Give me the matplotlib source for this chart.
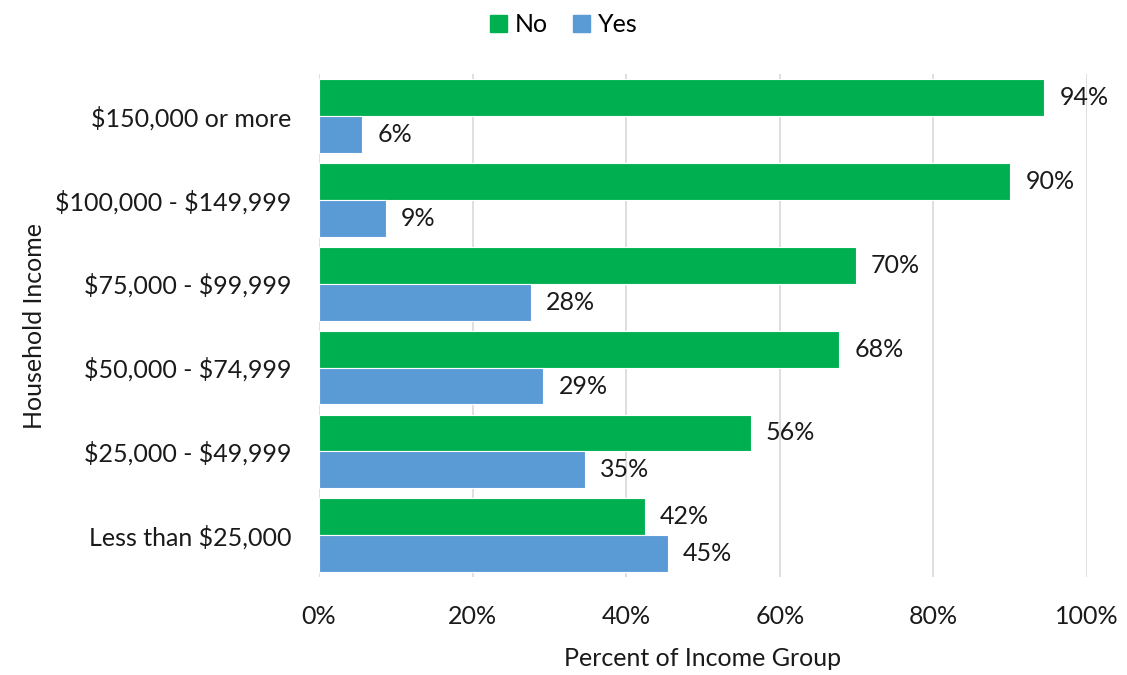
import matplotlib.pyplot as plt
import numpy as np
from matplotlib.patches import Patch

# ============================================================
# DATA
# ============================================================

categories = [
    "Less than $25,000",
    "$25,000 - $49,999",
    "$50,000 - $74,999",
    "$75,000 - $99,999",
    "$100,000 - $149,999",
    "$150,000 or more",
]
no_values = [42.4, 56.2, 67.7, 69.9, 90.0, 94.4]
yes_values = [45.4, 34.6, 29.2, 27.6, 8.7, 5.6]
x_ticks = [0, 20, 40, 60, 80, 100]

GREEN = "#00B050"
BLUE = "#5B9BD5"
TEXT = "#1a1a1a"
FS = 18

plt.rcParams["font.family"] = ["Lato", "DejaVu Sans"]
plt.rcParams["text.parse_math"] = False

fig = plt.figure(figsize=(11.27, 6.75), dpi=100)
ax = fig.add_axes([0.283, 0.145, 0.6815, 0.745])

y = np.arange(len(categories))
h = 0.44

bars_no = ax.barh(y + h / 2, no_values, height=h, color=GREEN,
                  edgecolor="white", linewidth=0.8, zorder=3)
bars_yes = ax.barh(y - h / 2, yes_values, height=h, color=BLUE,
                   edgecolor="white", linewidth=0.8, zorder=3)

for bars, vals in [(bars_no, no_values), (bars_yes, yes_values)]:
    for b, v in zip(bars, vals):
        ax.annotate(f"{round(v)}%", xy=(v, b.get_y() + b.get_height() / 2),
                    xytext=(11, 0), textcoords="offset points",
                    va="center", ha="left", fontsize=FS, color=TEXT)

ax.set_xlim(0, 100)
ax.set_ylim(-0.5, len(categories) - 0.5)
ax.set_xticks(x_ticks)
ax.set_xticklabels([f"{t}%" for t in x_ticks], fontsize=FS)
ax.set_yticks(y)
ax.set_yticklabels(categories, fontsize=FS)
ax.tick_params(axis="both", length=0, colors=TEXT)
ax.tick_params(axis="x", pad=20)
ax.tick_params(axis="y", pad=20)

ax.grid(axis="x", color="#D9D9D9", linewidth=1.2, zorder=0)
for s in ax.spines.values():
    s.set_visible(False)

ax.set_xlabel("Percent of Income Group", fontsize=FS, labelpad=14, color=TEXT)
ax.set_ylabel("Household Income", fontsize=FS, labelpad=6, color=TEXT)

handles = [Patch(color=GREEN, label="No"), Patch(color=BLUE, label="Yes")]
fig.legend(handles=handles, loc="upper center", bbox_to_anchor=(0.5, 1.014),
           ncol=2, frameon=False, fontsize=FS, handlelength=0.7,
           handleheight=0.7, handletextpad=0.3, columnspacing=1.0)

fig.savefig("out.png", dpi=100)
